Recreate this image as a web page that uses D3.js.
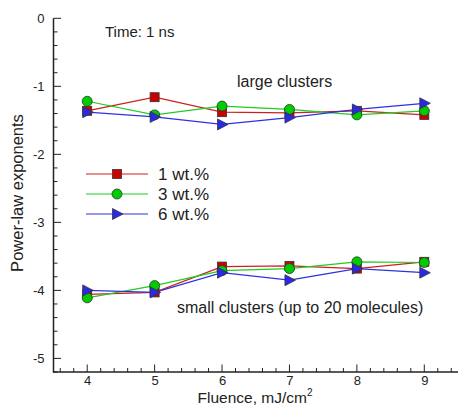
<!DOCTYPE html>
<html><head><meta charset="utf-8">
<script src="https://cdn.jsdelivr.net/npm/d3@7"></script>
<style>body{margin:0;background:#fff;}svg{display:block;font-family:"Liberation Sans",Arial,sans-serif;}</style>
</head><body>
<svg id="c" width="458" height="406"></svg>
<script>
const fluence = [4, 5, 6, 7, 8, 9];
const seriesNames = ["1 wt.%", "3 wt.%", "6 wt.%"];
const large1 = [-1.36, -1.16, -1.38, -1.39, -1.36, -1.42];
const large3 = [-1.22, -1.42, -1.29, -1.34, -1.42, -1.36];
const large6 = [-1.38, -1.45, -1.56, -1.46, -1.34, -1.25];
const small1 = [-4.06, -4.03, -3.65, -3.64, -3.68, -3.58];
const small3 = [-4.11, -3.93, -3.71, -3.68, -3.58, -3.59];
const small6 = [-4.00, -4.03, -3.74, -3.85, -3.68, -3.74];
const yTicks = [0, -1, -2, -3, -4, -5];
const xTicks = [4, 5, 6, 7, 8, 9];

const svg = d3.select("#c");
const x = d3.scaleLinear().domain([3.5, 9.5]).range([53.5, 458]);
const y = d3.scaleLinear().domain([0, -5.2]).range([18.3, 372]);

const colors = ["#cc0000", "#00cc00", "#2a2ae6"];
const lineCols = ["#cc2020", "#20cc20", "#3030e0"];
const shapes = ["square", "circle", "triangle"];

// axes
const yAxis = d3.axisLeft(y).tickValues(yTicks).tickSize(0).tickPadding(9).tickFormat(d => String(d));
const gy = svg.append("g").attr("transform", "translate(53.5,0)").call(yAxis);
gy.select(".domain").remove();
gy.selectAll("text").attr("font-size", 13).attr("fill", "#222").attr("font-family", "Liberation Sans, Arial, sans-serif");
const xAxis = d3.axisBottom(x).tickValues(xTicks).tickSize(0).tickPadding(4.2).tickFormat(d3.format("d"));
const gx = svg.append("g").attr("transform", "translate(0,372)").call(xAxis);
gx.select(".domain").remove();
gx.selectAll("text").attr("font-size", 13).attr("fill", "#222").attr("font-family", "Liberation Sans, Arial, sans-serif");

// tick marks (inside)
const yMinor = d3.range(0, -5.21, -0.2);
svg.append("g").selectAll("line").data(yMinor).join("line")
  .attr("x1", 53.5).attr("x2", d => Math.abs(d - Math.round(d)) < 1e-6 ? 61 : 57.5)
  .attr("y1", d => y(d)).attr("y2", d => y(d))
  .attr("stroke", "#222").attr("stroke-width", 1);
const xMinor = d3.range(3.6, 9.51, 0.2);
svg.append("g").selectAll("line").data(xMinor).join("line")
  .attr("y1", 372).attr("y2", d => Math.abs(d - Math.round(d)) < 1e-6 ? 364.5 : 368)
  .attr("x1", d => x(d)).attr("x2", d => x(d))
  .attr("stroke", "#222").attr("stroke-width", 1);

svg.append("line").attr("x1", 53.5).attr("x2", 53.5).attr("y1", y(0)).attr("y2", 372.5).attr("stroke", "#222").attr("stroke-width", 1.5);
svg.append("line").attr("x1", 53).attr("x2", 458).attr("y1", 372).attr("y2", 372).attr("stroke", "#222").attr("stroke-width", 1.5);

// labels
svg.append("text").attr("transform", "translate(23,193) rotate(-90)").attr("text-anchor", "middle")
  .attr("font-size", 16.5).attr("fill", "#222").text("Power-law exponents");
const xl = svg.append("text").attr("x", 255).attr("y", 402.5).attr("text-anchor", "middle").attr("font-size", 15.5).attr("fill", "#222");
xl.append("tspan").text("Fluence, mJ/cm");
xl.append("tspan").attr("dy", -7).attr("font-size", 10).text("2");

svg.append("text").attr("x", 105).attr("y", 37).attr("font-size", 15).attr("fill", "#222").text("Time: 1 ns");
svg.append("text").attr("x", 237).attr("y", 87).attr("font-size", 16).attr("fill", "#222").text("large clusters");
svg.append("text").attr("x", 177).attr("y", 313).attr("font-size", 16).attr("fill", "#222").text("small clusters (up to 20 molecules)");

function marker(g, shape, cx, cy, col) {
  if (shape === "square") {
    g.append("rect").attr("x", cx - 4.5).attr("y", cy - 4.5).attr("width", 9).attr("height", 9)
      .attr("fill", col).attr("stroke", "#333").attr("stroke-width", 0.8);
  } else if (shape === "circle") {
    g.append("circle").attr("cx", cx).attr("cy", cy).attr("r", 5)
      .attr("fill", col).attr("stroke", "#333").attr("stroke-width", 0.8);
  } else {
    g.append("path").attr("d", `M${cx - 4.5},${cy - 5.5}L${cx + 6},${cy}L${cx - 4.5},${cy + 5.5}Z`)
      .attr("fill", col).attr("stroke", "#333").attr("stroke-width", 0.8);
  }
}

const groups = [[large1, small1], [large3, small3], [large6, small6]];
const line = d3.line().x((d, i) => x(fluence[i])).y(d => y(d));
groups.forEach((gr, s) => {
  const g = svg.append("g");
  gr.forEach(vals => {
    g.append("path").attr("d", line(vals)).attr("fill", "none").attr("stroke", lineCols[s]).attr("stroke-width", 1.2);
  });
});
groups.forEach((gr, s) => {
  const g = svg.append("g");
  gr.forEach(vals => {
    vals.forEach((v, i) => marker(g, shapes[s], x(fluence[i]), y(v), colors[s]));
  });
});

// legend
seriesNames.forEach((name, s) => {
  const ly = 174 + s * 20;
  const g = svg.append("g");
  g.append("line").attr("x1", 86).attr("x2", 148).attr("y1", ly).attr("y2", ly).attr("stroke", lineCols[s]).attr("stroke-width", 1.2);
  marker(g, shapes[s], 117, ly, colors[s]);
  g.append("text").attr("x", 158).attr("y", ly + 6).attr("font-size", 17).attr("fill", "#222").text(name);
});
</script>
</body></html>
